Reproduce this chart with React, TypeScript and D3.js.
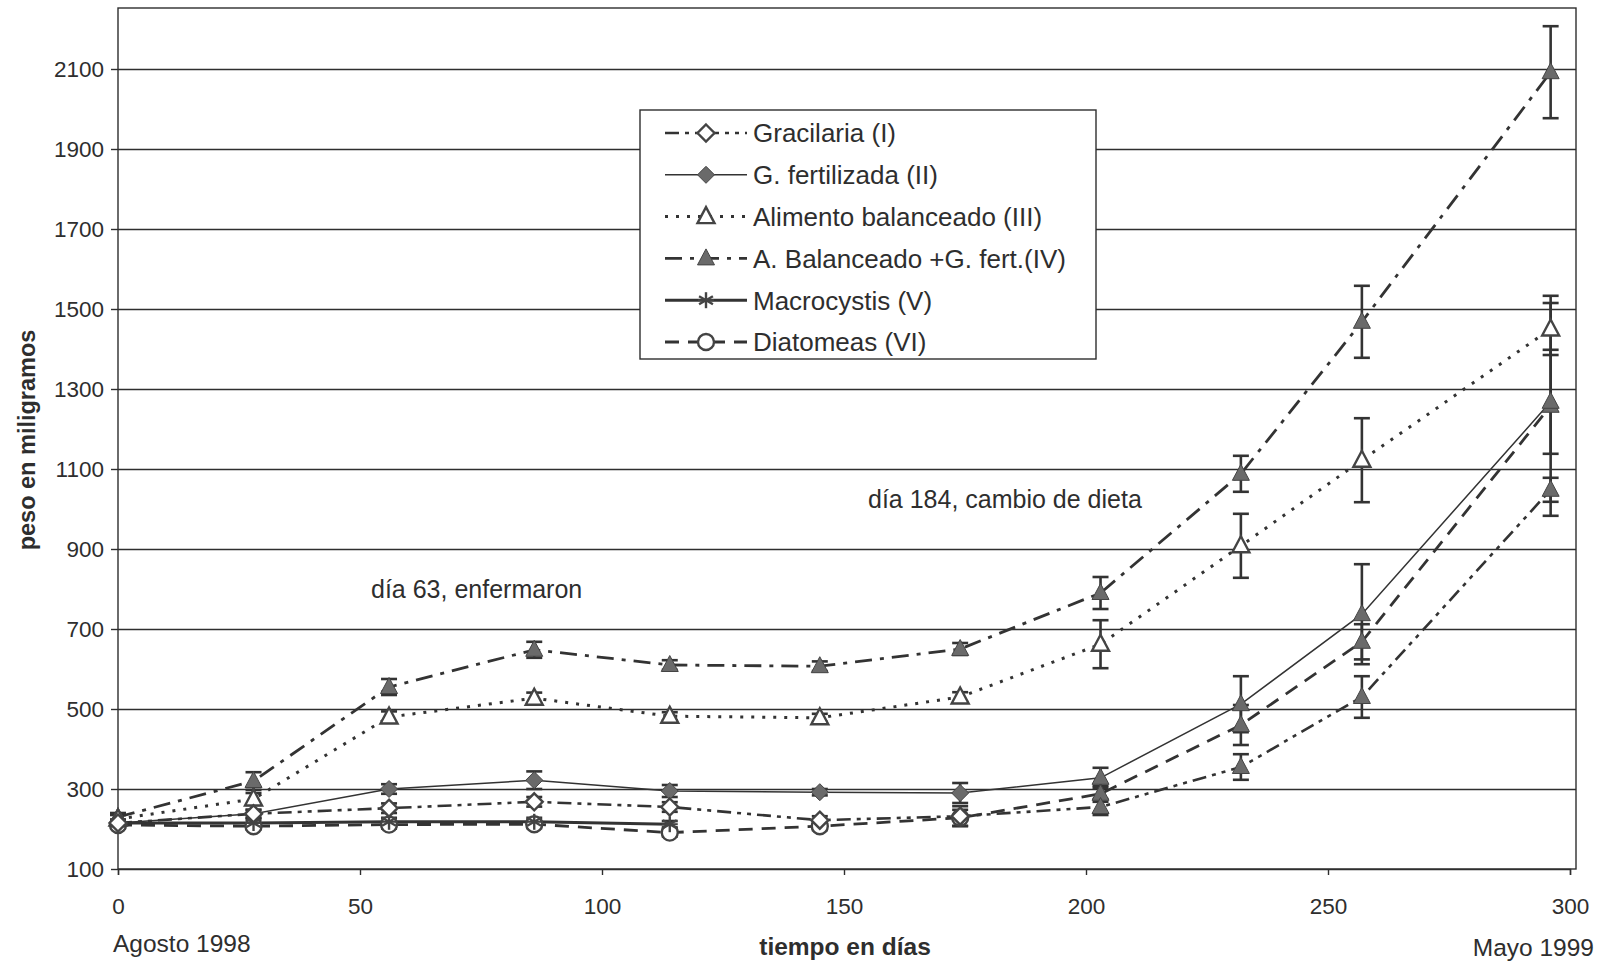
import React, { useEffect, useRef } from 'react';
import * as d3 from 'd3';

// dias de muestreo (agosto 1998 -> mayo 1999)
const days = [0, 28, 56, 86, 114, 145, 174, 203, 232, 257, 296];

const gracilaria = [215, 238, 252, 268, 255, 222, 232, 255, 355, 530, 1048];
const gracilariaErr = [8, 10, 12, 12, 12, 10, 25, 20, 32, 52, 30];
const gFertilizada = [215, 238, 300, 322, 295, 292, 290, 328, 512, 737, 1268];
const gFertilizadaErr = [8, 10, 12, 22, 15, 8, 25, 25, 70, 125, 130];
const alimento = [225, 275, 480, 527, 482, 478, 530, 662, 908, 1122, 1450];
const alimentoErr = [10, 15, 14, 14, 10, 10, 12, 60, 80, 105, 65];
const balanceadoFert = [230, 320, 555, 648, 610, 607, 650, 790, 1088, 1468, 2092];
const balanceadoFertErr = [10, 22, 20, 20, 12, 12, 15, 40, 45, 90, 115];
// Macrocystis solo hasta el dia 114
const macrocystis = [215, 215, 218, 218, 212];
const macrocystisErr = [8, 8, 10, 10, 8];
const diatomeas = [210, 207, 211, 212, 191, 207, 228, 288, 460, 668, 1258];
const diatomeasErr = [8, 8, 10, 10, 10, 10, 20, 20, 50, 44, 275];

const yTicks = [100, 300, 500, 700, 900, 1100, 1300, 1500, 1700, 1900, 2100];
const xTicks = [0, 50, 100, 150, 200, 250, 300];

const dietChangeDay = 184;

const FONT = '"Liberation Sans", Arial, sans-serif';
const INK = '#2e2e2e';
const GRAY = '#6a6a6a';

const App = () => {
  const ref = useRef<SVGSVGElement>(null);

  useEffect(() => {
    drawChart();
  }, []);

  const drawChart = () => {
    const svg = d3.select(ref.current);
    svg.selectAll('*').remove();

    const left = 118, right = 1576, top = 8, bottom = 869;

    const x = d3.scaleLinear().domain([0, 300]).range([left, 1570]);
    const y = d3.scaleLinear().domain([100, 2100]).range([bottom, 69]);

    const series = [
      { name: 'Gracilaria (I)', values: gracilaria, err: gracilariaErr, marker: 'diamondOpen', dash: '14,6,4,6,4,6', width: 2.6, switches: true },
      { name: 'G. fertilizada (II)', values: gFertilizada, err: gFertilizadaErr, marker: 'diamond', dash: null, width: 1.5, switches: true },
      { name: 'Alimento balanceado (III)', values: alimento, err: alimentoErr, marker: 'triangleOpen', dash: '3,8', width: 3, switches: false },
      { name: 'A. Balanceado +G. fert.(IV)', values: balanceadoFert, err: balanceadoFertErr, marker: 'triangle', dash: '17,8,4,8', width: 2.8, switches: false },
      { name: 'Macrocystis (V)', values: macrocystis, err: macrocystisErr, marker: 'asterisk', dash: null, width: 3, switches: false },
      { name: 'Diatomeas (VI)', values: diatomeas, err: diatomeasErr, marker: 'circleOpen', dash: '14,9', width: 2.8, switches: true },
    ];

    // marco del area de grafico
    svg.append('rect')
      .attr('x', left).attr('y', top)
      .attr('width', right - left).attr('height', bottom - top)
      .attr('fill', 'none').attr('stroke', INK).attr('stroke-width', 1.4);

    // lineas de division horizontales
    const grid = svg.append('g')
      .attr('transform', `translate(${left},0)`)
      .call(d3.axisLeft(y).tickValues(yTicks.slice(1)).tickSize(-(right - left)).tickFormat(() => ''));
    grid.select('.domain').remove();
    grid.selectAll('line').attr('stroke', INK).attr('stroke-width', 1.3);

    // eje Y
    const yAxis = svg.append('g')
      .attr('transform', `translate(${left},0)`)
      .call(d3.axisLeft(y).tickValues(yTicks).tickSize(7).tickPadding(7).tickFormat(d3.format('d')));
    yAxis.select('.domain').remove();
    yAxis.selectAll('line').attr('stroke', INK).attr('stroke-width', 1.4);
    yAxis.selectAll('text').attr('font-family', FONT).attr('font-size', 22.5).attr('fill', INK);

    // eje X
    const xAxis = svg.append('g')
      .attr('transform', `translate(0,${bottom})`)
      .call(d3.axisBottom(x).tickValues(xTicks).tickSize(6).tickPadding(23).tickFormat(d3.format('d')));
    xAxis.select('.domain').attr('stroke', INK).attr('stroke-width', 1.4);
    xAxis.selectAll('line').attr('stroke', INK).attr('stroke-width', 1.4);
    xAxis.selectAll('text').attr('font-family', FONT).attr('font-size', 22.5).attr('fill', INK);

    // titulos de ejes
    svg.append('text')
      .attr('x', 845).attr('y', 955)
      .attr('text-anchor', 'middle')
      .attr('font-family', FONT).attr('font-size', 24.5).attr('font-weight', 'bold').attr('fill', INK)
      .text('tiempo en días');
    svg.append('text')
      .attr('x', 113).attr('y', 952)
      .attr('font-family', FONT).attr('font-size', 24.5).attr('fill', INK)
      .text('Agosto 1998');
    svg.append('text')
      .attr('x', 1594).attr('y', 956)
      .attr('text-anchor', 'end')
      .attr('font-family', FONT).attr('font-size', 24.5).attr('fill', INK)
      .text('Mayo 1999');
    svg.append('text')
      .attr('transform', 'translate(35,440) rotate(-90)')
      .attr('text-anchor', 'middle')
      .attr('font-family', FONT).attr('font-size', 23.5).attr('font-weight', 'bold').attr('fill', INK)
      .text('peso en miligramos');

    // anotaciones
    svg.append('text')
      .attr('x', 371).attr('y', 598)
      .attr('font-family', FONT).attr('font-size', 25).attr('fill', INK)
      .text('día 63, enfermaron');
    svg.append('text')
      .attr('x', 868).attr('y', 508)
      .attr('font-family', FONT).attr('font-size', 25).attr('fill', INK)
      .text('día 184, cambio de dieta');

    const drawMarker = (g, type, cx, cy) => {
      if (type === 'diamond' || type === 'diamondOpen') {
        g.append('path')
          .attr('d', `M${cx},${cy - 8.5}L${cx + 8.5},${cy}L${cx},${cy + 8.5}L${cx - 8.5},${cy}Z`)
          .attr('fill', type === 'diamond' ? GRAY : '#fff')
          .attr('stroke', '#444').attr('stroke-width', type === 'diamond' ? 1 : 2.4);
      } else if (type === 'triangle' || type === 'triangleOpen') {
        g.append('path')
          .attr('d', `M${cx},${cy - 9.5}L${cx + 8.5},${cy + 6.5}L${cx - 8.5},${cy + 6.5}Z`)
          .attr('fill', type === 'triangle' ? GRAY : '#fff')
          .attr('stroke', '#444').attr('stroke-width', type === 'triangle' ? 1 : 2.4);
      } else if (type === 'circleOpen') {
        g.append('circle')
          .attr('cx', cx).attr('cy', cy).attr('r', 8)
          .attr('fill', '#fff').attr('stroke', '#444').attr('stroke-width', 2.4);
      } else if (type === 'asterisk') {
        const r = 8;
        [0, 60, 120].forEach(a => {
          const rad = (a * Math.PI) / 180;
          g.append('line')
            .attr('x1', cx - r * Math.sin(rad)).attr('y1', cy - r * Math.cos(rad))
            .attr('x2', cx + r * Math.sin(rad)).attr('y2', cy + r * Math.cos(rad))
            .attr('stroke', '#444').attr('stroke-width', 2.4);
        });
        g.append('line')
          .attr('x1', cx - r).attr('y1', cy).attr('x2', cx + r).attr('y2', cy)
          .attr('stroke', '#444').attr('stroke-width', 2);
      }
    };

    const line = d3.line<number>()
      .x((_, i) => x(days[i]))
      .y(d => y(d));

    const plot = svg.append('g');

    // lineas de series
    series.forEach(s => {
      plot.append('path')
        .datum(s.values)
        .attr('d', line)
        .attr('fill', 'none')
        .attr('stroke', '#333')
        .attr('stroke-width', s.width)
        .attr('stroke-dasharray', s.dash);
    });

    // barras de error
    series.forEach(s => {
      s.values.forEach((v, i) => {
        const cx = x(days[i]);
        const y0 = y(v - s.err[i]);
        const y1 = y(v + s.err[i]);
        const eb = plot.append('g').attr('stroke', '#333').attr('stroke-width', 2.6);
        eb.append('line').attr('x1', cx).attr('x2', cx).attr('y1', y0).attr('y2', y1);
        eb.append('line').attr('x1', cx - 8).attr('x2', cx + 8).attr('y1', y0).attr('y2', y0);
        eb.append('line').attr('x1', cx - 8).attr('x2', cx + 8).attr('y1', y1).attr('y2', y1);
      });
    });

    // marcadores (tras el cambio de dieta I, II y VI usan triangulo relleno)
    series.slice().reverse().forEach(s => {
      s.values.forEach((v, i) => {
        const type = s.switches && days[i] > dietChangeDay ? 'triangle' : s.marker;
        drawMarker(plot, type, x(days[i]), y(v));
      });
    });

    // leyenda
    const legend = svg.append('g');
    legend.append('rect')
      .attr('x', 640).attr('y', 110).attr('width', 456).attr('height', 249)
      .attr('fill', '#fff').attr('stroke', INK).attr('stroke-width', 1.4);
    const rowY = d3.scaleLinear().domain([0, 5]).range([133, 342]);
    series.forEach((s, i) => {
      const ry = rowY(i);
      legend.append('line')
        .attr('x1', 665).attr('x2', 747).attr('y1', ry).attr('y2', ry)
        .attr('stroke', '#333').attr('stroke-width', s.width)
        .attr('stroke-dasharray', s.dash);
      drawMarker(legend, s.marker, 706, ry);
      legend.append('text')
        .attr('x', 753).attr('y', ry).attr('dy', '0.36em')
        .attr('font-family', FONT).attr('font-size', 26).attr('fill', INK)
        .text(s.name);
    });
  };

  return (
    <svg
      ref={ref}
      width={1606}
      height={968}
      style={{ position: 'absolute', left: 0, top: 0, background: '#fff' }}
    />
  );
};

export default App;
